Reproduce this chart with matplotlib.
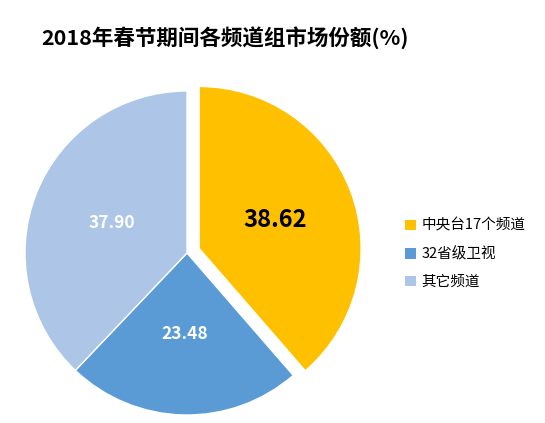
import matplotlib.pyplot as plt
from matplotlib.patches import Patch

plt.rcParams['font.family'] = ['Noto Sans CJK SC', 'DejaVu Sans']

labels = ['中央台17个频道', '32省级卫视', '其它频道']
shares = [38.62, 23.48, 37.90]
colors = ['#FFC000', '#5B9BD5', '#ADC5E7']

fig = plt.figure(figsize=(5.45, 4.23), dpi=100)
# pie area: centre at (187, 253) px, radius 162 px
ax = fig.add_axes([25/545, 8/423, 324/545, 324/423])

wedges, texts, pcts = ax.pie(shares, colors=colors, startangle=90, counterclock=False,
                             explode=[0.08, 0, 0], autopct='%.2f', pctdistance=0.5,
                             wedgeprops=dict(edgecolor='white', linewidth=1))
ax.set_xlim(-1, 1)
ax.set_ylim(-1, 1)
ax.set_aspect('equal')
for w in wedges:
    w.set_clip_on(False)

pcts[0].set_color('black')
pcts[0].set_fontsize(17)
pcts[0].set_fontweight('bold')
for t in pcts[1:]:
    t.set_color('white')
    t.set_fontsize(12.5)
    t.set_fontweight('bold')

fig.text(41/545, 1 - 38/423, '2018年春节期间各频道组市场份额(%)', fontsize=15.5,
         fontweight='bold', va='center', ha='left')

handles = [Patch(facecolor=c, edgecolor='none') for c in colors]
fig.legend(handles, labels, loc='center left', bbox_to_anchor=(392/545, 1 - 254/423),
           frameon=False, fontsize=10.5, handlelength=0.75, handleheight=0.75,
           handletextpad=0.35, labelspacing=0.95)

fig.savefig('out.png', dpi=100)
